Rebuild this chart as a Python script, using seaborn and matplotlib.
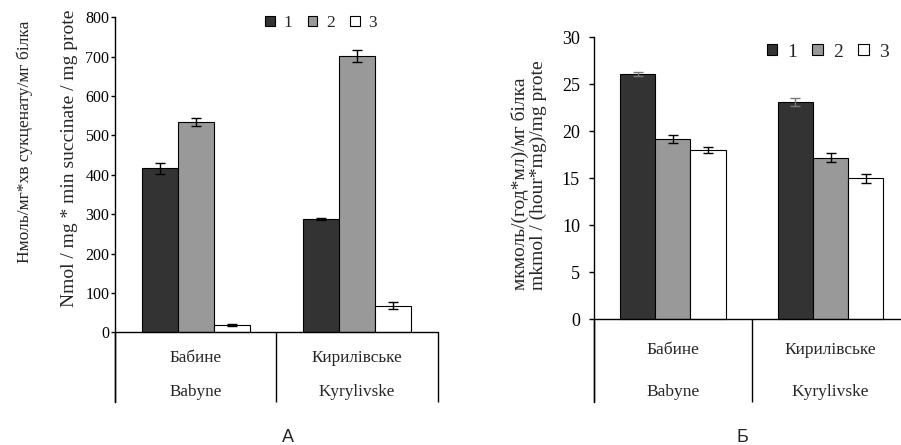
import pandas as pd
import matplotlib
matplotlib.use('Agg')
import matplotlib.pyplot as plt
import seaborn as sns

# Categories and series
sites_ua = ['Бабине', 'Кирилівське']
sites_en = ['Babyne', 'Kyrylivske']
series = ['1', '2', '3']

# Panel A: succinate dehydrogenase activity (values per site, series 1..3)
a_babyne = [417, 534, 19]
a_kyryl = [288, 702, 68]
a_err_babyne = [14, 10, 2]
a_err_kyryl = [3, 15, 10]

# Panel B (Б)
b_babyne = [26.1, 19.2, 18.0]
b_kyryl = [23.1, 17.2, 15.0]
b_err_babyne = [0.2, 0.45, 0.28]
b_err_kyryl = [0.4, 0.45, 0.46]

palette = {'1': '#333333', '2': '#999999', '3': '#ffffff'}
serif = 'Liberation Serif'

sns.set_style('white')
plt.rcParams['font.family'] = [serif, 'DejaVu Serif']


def make_df(v1, v2, e1, e2):
    rows = []
    for s, v, e in zip(series, v1, e1):
        rows.append({'site': sites_ua[0], 'series': s, 'value': v, 'err': e})
    for s, v, e in zip(series, v2, e2):
        rows.append({'site': sites_ua[1], 'series': s, 'value': v, 'err': e})
    return pd.DataFrame(rows)


fig = plt.figure(figsize=(9.01, 4.45), dpi=100)
ax1 = fig.add_axes([0.12764, 0.09663, 0.35816, 0.86449])
ax2 = fig.add_axes([0.65927, 0.0973, 0.35006, 0.81888])


def draw_panel(ax, df, ylim, yticks, tick_fs, tick_len, tick_pad, lab_y, lab_fs,
               err_colors, capsize, leg_anchor, leg_fs, colsp):
    sns.barplot(data=df, x='site', y='value', hue='series', hue_order=series,
                palette=palette, width=0.67, errorbar=None, edgecolor='black',
                linewidth=0.8, saturation=1, ax=ax)
    # error bars at bar centres
    bar_conts = list(ax.containers)
    for cont, lvl, col in zip(bar_conts, series, err_colors):
        sub = df[df['series'] == lvl]
        xs = [b.get_x() + b.get_width() / 2 for b in cont]
        ax.errorbar(xs, sub['value'].values, yerr=sub['err'].values, fmt='none',
                    ecolor=col, elinewidth=1, capsize=capsize, capthick=1)
    ax.set_xlim(-0.5, 1.5)
    ax.set_ylim(*ylim)
    ax.set_yticks(yticks)
    ax.set_xticks([])
    ax.set_xlabel('')
    ax.set_ylabel('')
    for sp in ['top', 'right', 'bottom']:
        ax.spines[sp].set_visible(False)
    ax.spines['left'].set_color('black')
    ax.spines['left'].set_linewidth(1)
    ax.tick_params(axis='y', left=True, direction='out', length=tick_len,
                   width=1, pad=tick_pad, labelsize=tick_fs, colors='black')
    # category axis
    ax.axhline(0, color='black', lw=1, clip_on=False)
    ax.vlines([-0.5, 0.5, 1.5], ylim[0], 0, color='black', lw=1, clip_on=False)
    for i in range(2):
        ax.text(i, lab_y[0], sites_ua[i], ha='center', va='center', fontsize=lab_fs)
        ax.text(i, lab_y[1], sites_en[i], ha='center', va='center', fontsize=lab_fs)
    ax.legend(loc='center', bbox_to_anchor=leg_anchor, bbox_transform=fig.transFigure,
              ncol=3, frameon=False, fontsize=leg_fs, handlelength=0.55,
              handleheight=0.55, handletextpad=0.5, columnspacing=colsp,
              borderpad=0, title=None)


df_a = make_df(a_babyne, a_kyryl, a_err_babyne, a_err_kyryl)
df_b = make_df(b_babyne, b_kyryl, b_err_babyne, b_err_kyryl)

draw_panel(ax1, df_a, (-177, 800), range(0, 801, 100), 11.5, 3, 1,
           (-65, -152), 12.3, ['black', 'black', 'black'], 3.5,
           (0.3563, 0.9483), 12.5, 0.9)
draw_panel(ax2, df_b, (-8.77, 30), range(0, 31, 5), 13, 3.6, 6.5,
           (-3.27, -7.7), 12.5, ['#777777', 'black', 'black'], 3.5,
           (0.9184, 0.8831), 14, 0.8)

# y-axis titles (two lines each, second partly cut as in the source)
fig.text(25 / 901, 1 - 263 / 445, 'Нмоль/мг*хв сукценату/мг білка', rotation=90,
         ha='center', va='bottom', fontsize=12.6)
fig.text(70 / 901, 1 - 307 / 445, 'Nmol / mg * min succinate / mg prote', rotation=90,
         ha='center', va='bottom', fontsize=14)
fig.text(520 / 901, 1 - 290 / 445, 'мкмоль/(год*мл)/мг білка', rotation=90,
         ha='center', va='bottom', fontsize=14)
fig.text(538 / 901, 1 - 290 / 445, 'mkmol / (hour*mg)/mg prote', rotation=90,
         ha='center', va='bottom', fontsize=14)

# panel letters
fig.text(288 / 901, 1 - 437 / 445, 'А', ha='center', va='center', fontsize=13,
         family='Liberation Sans')
fig.text(742 / 901, 1 - 437 / 445, 'Б', ha='center', va='center', fontsize=13,
         family='Liberation Sans')

fig.savefig('out.png', dpi=100)
